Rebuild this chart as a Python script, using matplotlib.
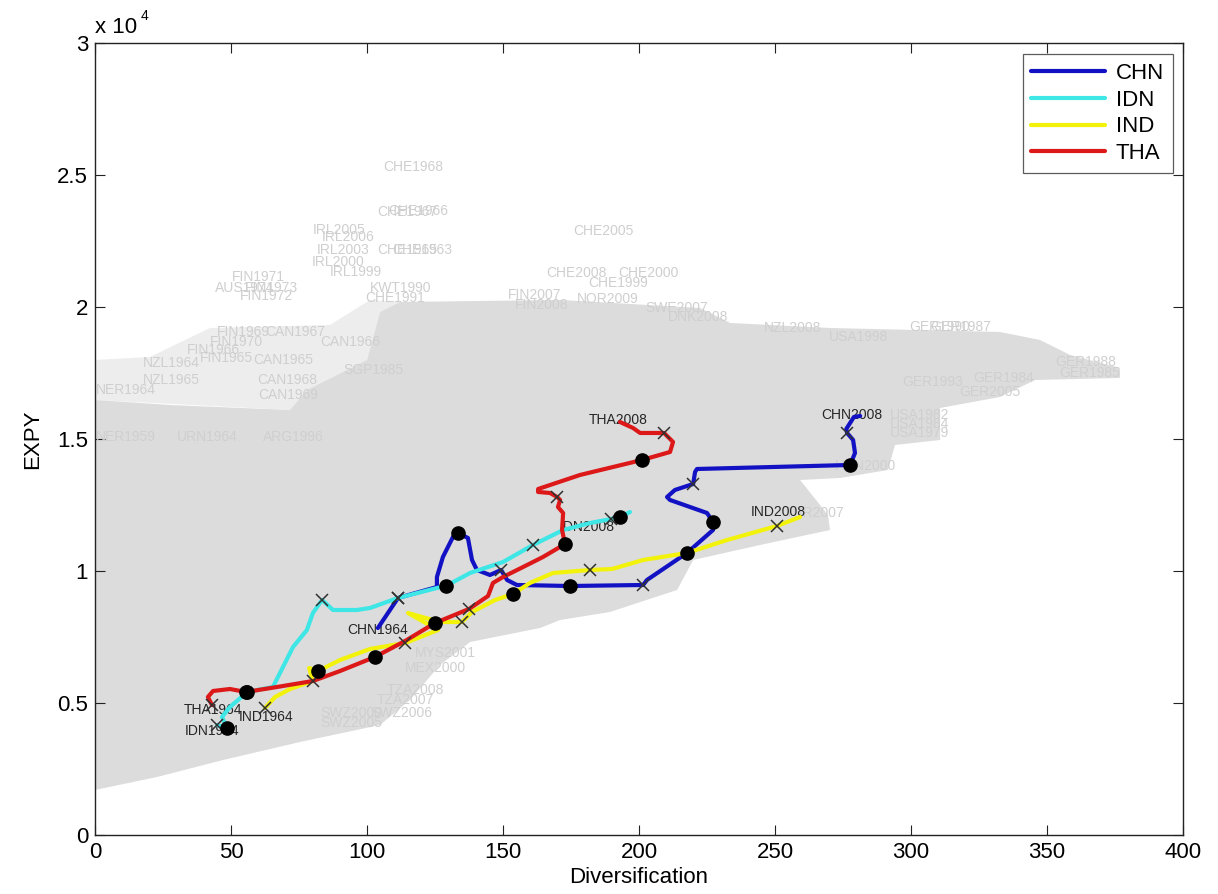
import numpy as np
import matplotlib
matplotlib.use("Agg")
import matplotlib.pyplot as plt
from matplotlib.ticker import FixedLocator, FuncFormatter

plt.rcParams['font.family'] = ['Liberation Sans', 'DejaVu Sans']

# ---------------------------------------------------------------------------
# Country paths: diversification vs EXPY, 1964-2008
# marks: 'x' and 'o' flag the highlighted years along each path
# ---------------------------------------------------------------------------
chn_div = [104.0, 111.4, 125.7, 125.7, 127.9, 131.6, 133.5, 137.1, 138.6, 140.4,
           145.2, 149.3, 151.5, 155.1, 174.6, 201.5, 202.9, 217.6, 227.2, 227.2,
           225.0, 211.4, 210.3, 213.2, 219.9, 220.6, 221.3, 277.6, 279.4, 278.7,
           276.5, 276.2, 279.0, 281.3]
chn_expy = [7841, 8978, 9394, 9773, 10531, 11288, 11440, 11250, 10417, 10038,
            9849, 10038, 9659, 9470, 9432, 9470, 9659, 10682, 11553, 11856,
            12197, 12690, 12803, 13069, 13296, 13750, 13864, 14016, 14470, 14963,
            15228, 15380, 15834, 15872]
chn_marks = ['', 'x', '', '', '', '', 'o', '', '', '',
             '', 'x', '', '', 'o', 'x', '', 'o', '', 'o',
             '', '', '', '', 'x', '', '', 'o', '', '',
             'x', '', '', '']

idn_div = [44.9, 48.5, 46.7, 49.6, 52.6, 55.9, 65.4, 69.1, 72.8, 77.9,
           80.1, 83.5, 87.5, 96.3, 101.1, 111.4, 125.7, 129.0, 137.9, 150.0,
           161.0, 172.1, 182.0, 189.7, 193.0, 196.7]
idn_expy = [4167, 4053, 4470, 4849, 5114, 5417, 5606, 6364, 7121, 7765,
            8409, 8902, 8523, 8523, 8599, 8978, 9356, 9432, 9925, 10341,
            10985, 11553, 11818, 11970, 12046, 12235]
idn_marks = ['x', 'o', '', '', '', 'o', '', '', '', '',
             '', 'x', '', '', '', 'x', '', 'o', '', '',
             'x', '', '', 'x', 'o', '']

ind_div = [62.5, 66.2, 71.7, 80.1, 78.7, 82.0, 90.1, 101.1, 114.0, 126.1,
           115.1, 126.8, 134.9, 138.6, 147.1, 153.7, 159.9, 168.4, 182.0, 190.1,
           201.5, 217.6, 232.4, 250.7, 259.2]
ind_expy = [4811, 5227, 5530, 5833, 6326, 6212, 6629, 7046, 7273, 7765,
            8409, 8069, 8069, 8447, 8902, 9129, 9546, 9925, 10038, 10076,
            10417, 10682, 11175, 11705, 12046]
ind_marks = ['x', '', '', 'x', '', 'o', '', '', 'x', '',
             '', '', 'x', '', '', 'o', '', '', 'x', '',
             '', '', '', 'x', '']

tha_div = [43.0, 41.5, 43.4, 49.6, 55.5, 66.9, 80.1, 90.1, 102.9, 114.0,
           125.0, 137.5, 144.5, 146.3, 150.0, 157.4, 164.7, 172.8, 171.7, 172.1,
           170.2, 171.0, 169.9, 167.3, 162.9, 162.9, 178.3, 201.1, 211.4, 212.5,
           209.2, 200.4, 197.8, 193.0]
tha_expy = [4924, 5227, 5455, 5530, 5417, 5606, 5833, 6212, 6743, 7349,
            8031, 8561, 9053, 9546, 9773, 10152, 10531, 11023, 11553, 12197,
            12424, 12690, 12803, 12955, 12993, 13106, 13637, 14205, 14508, 14887,
            15228, 15228, 15417, 15644]
tha_marks = ['x', '', '', '', 'o', '', '', '', 'o', '',
             'o', 'x', '', '', '', '', '', 'o', '', '',
             '', '', 'x', '', '', '', '', 'o', '', '',
             'x', '', '', '']

series_names = ['CHN', 'IDN', 'IND', 'THA']
series_colors = ['#1212c4', '#3ee6e6', '#f2f20a', '#dc1818']

# start / end year labels
end_labels = ['CHN1964', 'CHN2008', 'IDN1964', 'IDN2008',
              'IND1964', 'IND2008', 'THA1964', 'THA2008']
end_label_div = [104.0, 278.3, 43.0, 180.9, 62.9, 251.1, 43.4, 192.3]
end_label_expy = [7765, 15910, 3940, 11667, 4470, 12235, 4735, 15720]

# ---------------------------------------------------------------------------
# Background: all other country-years (dense core + scattered labels)
# ---------------------------------------------------------------------------
cloud_div = [0, 27.6, 71.7, 77.9, 100.0, 104.8, 112.1, 171.0, 222.4, 233.5,
             270.2, 332.7, 347.4, 358.5, 376.8, 376.8, 345.6, 332.7, 310.7, 310.7,
             294.1, 291.5, 273.9, 259.2, 269.5, 270.2, 244.5, 219.9, 214.0, 189.3,
             171.0, 163.6, 137.9, 126.8, 115.8, 104.8, 75.4, 47.1, 22.8, 0]
cloud_expy = [16478, 16288, 16099, 16857, 17993, 19811, 20190, 20266, 19963, 19395,
              19205, 19054, 18751, 18182, 17690, 17311, 17235, 16591, 16175, 14963,
              14773, 13826, 13523, 13447, 12122, 11553, 10985, 10417, 9281, 8447,
              8144, 7841, 7311, 6440, 5114, 4167, 3523, 2841, 2197, 1705]

fringe_div = [0, 20.2, 42.3, 86.4, 101.1, 112.1, 104.8, 100.0, 77.9, 71.7, 0]
fringe_expy = [17993, 18107, 19205, 19319, 20266, 20190, 19811, 17993, 16857, 16099, 16478]

bg_names = ['CHE1968', 'CHE1967', 'CHE1966', 'IRL2005', 'IRL2006', 'IRL2003',
            'CHE1965', 'CHE1963', 'IRL2000', 'IRL1999', 'FIN1971', 'AUS1974',
            'FIN1973', 'FIN1972', 'KWT1990', 'CHE1991', 'CHE2005', 'CHE2008',
            'CHE2000', 'CHE1999', 'FIN2007', 'FIN2008', 'NOR2009', 'SWE2007',
            'DNK2008', 'NZL2008', 'USA1998', 'GER1990', 'GER1987', 'GER1988',
            'GER1985', 'GER1984', 'GER1993', 'GER2005', 'USA1982', 'USA1984',
            'USA1979', 'FIN1969', 'CAN1967', 'FIN1970', 'CAN1966', 'FIN1966',
            'FIN1965', 'NZL1964', 'CAN1965', 'NZL1965', 'CAN1968', 'SGP1985',
            'NER1964', 'CAN1969', 'NER1959', 'URN1964', 'ARG1996', 'MYS2001',
            'MEX2000', 'TZA2008', 'TZA2007', 'SWZ2000', 'SWZ2006', 'SWZ2005',
            'HUN2000', 'TUR2007']
bg_div = [105.9, 103.7, 107.7, 80.1, 83.5, 81.6,
          103.7, 109.2, 79.8, 86.4, 50.4, 44.1,
          55.1, 53.3, 101.1, 99.3, 175.7, 165.8,
          192.3, 181.3, 151.8, 154.4, 177.2, 202.2,
          210.7, 246.0, 269.9, 299.3, 307.0, 352.9,
          354.4, 322.8, 296.7, 317.6, 292.3, 292.3,
          292.3, 44.9, 62.5, 42.3, 82.7, 33.8,
          38.6, 17.6, 58.1, 17.6, 59.6, 91.2,
          0.4, 59.9, 0.4, 30.1, 61.8, 117.6,
          114.0, 107.4, 103.7, 82.7, 101.1, 82.7,
          272.1, 253.7]
bg_expy = [25303, 23599, 23637, 22917, 22652, 22160,
           22160, 22160, 21705, 21326, 21137, 20720,
           20720, 20417, 20720, 20341, 22880, 21288,
           21288, 20910, 20455, 20076, 20303, 19963,
           19622, 19205, 18864, 19243, 19243, 17917,
           17500, 17311, 17160, 16781, 15910, 15569,
           15228, 19054, 19054, 18675, 18675, 18372,
           18069, 17879, 17993, 17235, 17235, 17614,
           16857, 16667, 15076, 15076, 15076, 6894,
           6326, 5493, 5114, 4621, 4621, 4243,
           13977, 12197]

x_ticks = [0, 50, 100, 150, 200, 250, 300, 350, 400]
y_ticks = [0, 5000, 10000, 15000, 20000, 25000, 30000]
y_tick_labels = ['0', '0.5', '1', '1.5', '2', '2.5', '3']

# ---------------------------------------------------------------------------
fig = plt.figure(figsize=(12.18, 8.94), dpi=100)
ax = fig.add_axes([0.0780, 0.0660, 0.8933, 0.8859])
ax.set_xlim(0, 400)
ax.set_ylim(0, 30000)

ax.fill(fringe_div, fringe_expy, color='#ededed', lw=0, zorder=1)
ax.fill(cloud_div, cloud_expy, color='#dcdcdc', lw=0, zorder=1)
for name, dx, dy in zip(bg_names, bg_div, bg_expy):
    ax.text(dx, dy, name, fontsize=10, color='#cfcfcf', ha='left', va='center',
            zorder=2, clip_on=True)

for name, dx, dy in zip(end_labels, end_label_div, end_label_expy):
    ax.text(dx, dy, name, fontsize=10, color='#262626', ha='center', va='center',
            zorder=3)

all_series = [(chn_div, chn_expy, chn_marks), (idn_div, idn_expy, idn_marks),
              (ind_div, ind_expy, ind_marks), (tha_div, tha_expy, tha_marks)]
handles = []
for (xs, ys, marks), name, col in zip(all_series, series_names, series_colors):
    h, = ax.plot(xs, ys, color=col, lw=3, solid_joinstyle='round',
                 solid_capstyle='round', label=name, zorder=4)
    handles.append(h)

for xs, ys, marks in all_series:
    xs = np.asarray(xs)
    ys = np.asarray(ys)
    m = np.asarray(marks)
    ax.plot(xs[m == 'x'], ys[m == 'x'], linestyle='none', marker='x', ms=8,
            mew=1.1, color='#303030', zorder=5)
    ax.plot(xs[m == 'o'], ys[m == 'o'], linestyle='none', marker='o', ms=9.5,
            color='black', zorder=5)

ax.xaxis.set_major_locator(FixedLocator(x_ticks))
ax.yaxis.set_major_locator(FixedLocator(y_ticks))
ax.yaxis.set_major_formatter(FuncFormatter(
    lambda v, p: y_tick_labels[y_ticks.index(int(round(v)))] if int(round(v)) in y_ticks else ''))
ax.tick_params(direction='in', length=7, width=0.8, top=True, right=True,
               labelsize=16, pad=5, color='#222222')
for s in ax.spines.values():
    s.set_color('#222222')
    s.set_linewidth(1.0)

ax.set_xlabel('Diversification', fontsize=16, labelpad=3)
ax.set_ylabel('EXPY', fontsize=16, labelpad=10)

ax.text(0.0, 1.0126, 'x 10', transform=ax.transAxes, fontsize=16,
        ha='left', va='baseline')
ax.text(0.0423, 1.0290, '4', transform=ax.transAxes, fontsize=10,
        ha='left', va='baseline')

leg = ax.legend(handles=handles, loc='upper right', bbox_to_anchor=(0.9908, 0.9861),
                borderaxespad=0, fontsize=16, handlelength=3.3, frameon=True,
                fancybox=False, labelspacing=0.26, borderpad=0.4,
                handletextpad=0.5)
leg.get_frame().set_edgecolor('#333333')
leg.get_frame().set_linewidth(0.9)
leg.set_zorder(10)

fig.savefig('out.png', dpi=100)
